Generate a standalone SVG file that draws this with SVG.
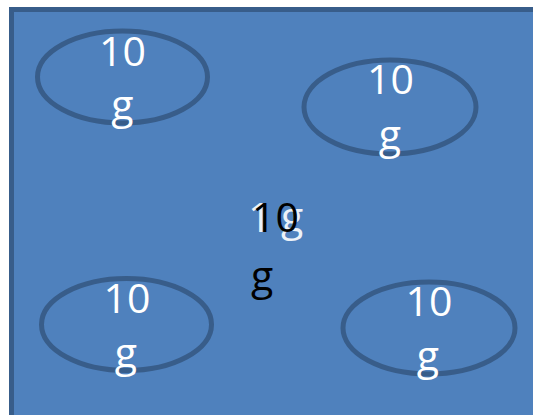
<svg xmlns="http://www.w3.org/2000/svg" width="533" height="415" viewBox="0 0 533 415">
<style>
.bg{fill:#4f81bd;stroke:#385d8a;stroke-width:5}
.el{fill:none;stroke:#385d8a;stroke-width:5}
.t{font-family:"Open Sans","Noto Sans",sans-serif;font-size:41px;fill:#ffffff;text-anchor:middle}
.k{font-family:"Open Sans","Noto Sans",sans-serif;font-size:41px;fill:#000000}
.w{font-family:"Open Sans","Noto Sans",sans-serif;font-size:41px;fill:#ffffff;opacity:0.9}
</style>
<rect class="bg" x="11.5" y="9.5" width="540" height="420"/>
<g id="connectors"/>
<g id="node1">
<ellipse class="el" cx="122.5" cy="77" rx="85" ry="46"/>
<text class="t" x="122.5" y="66">10</text>
<text class="t" x="122.5" y="119">g</text>
</g>
<g id="node2">
<ellipse class="el" cx="390" cy="107" rx="86" ry="47"/>
<text class="t" x="390.5" y="94">10</text>
<text class="t" x="390" y="149">g</text>
</g>
<g id="node3">
<ellipse class="el" cx="126.5" cy="324.5" rx="85" ry="46"/>
<text class="t" x="127" y="313">10</text>
<text class="t" x="126" y="367">g</text>
</g>
<g id="node4">
<ellipse class="el" cx="429" cy="328" rx="86" ry="46"/>
<text class="t" x="429" y="316">10</text>
<text class="t" x="428" y="370">g</text>
</g>
<g id="node5">
<text class="w" x="248" y="232">1</text>
<text class="w" x="281" y="231">g</text>
<text class="k" x="252" y="232">10</text>
<text class="k" x="251" y="290">g</text>
</g>
</svg>
